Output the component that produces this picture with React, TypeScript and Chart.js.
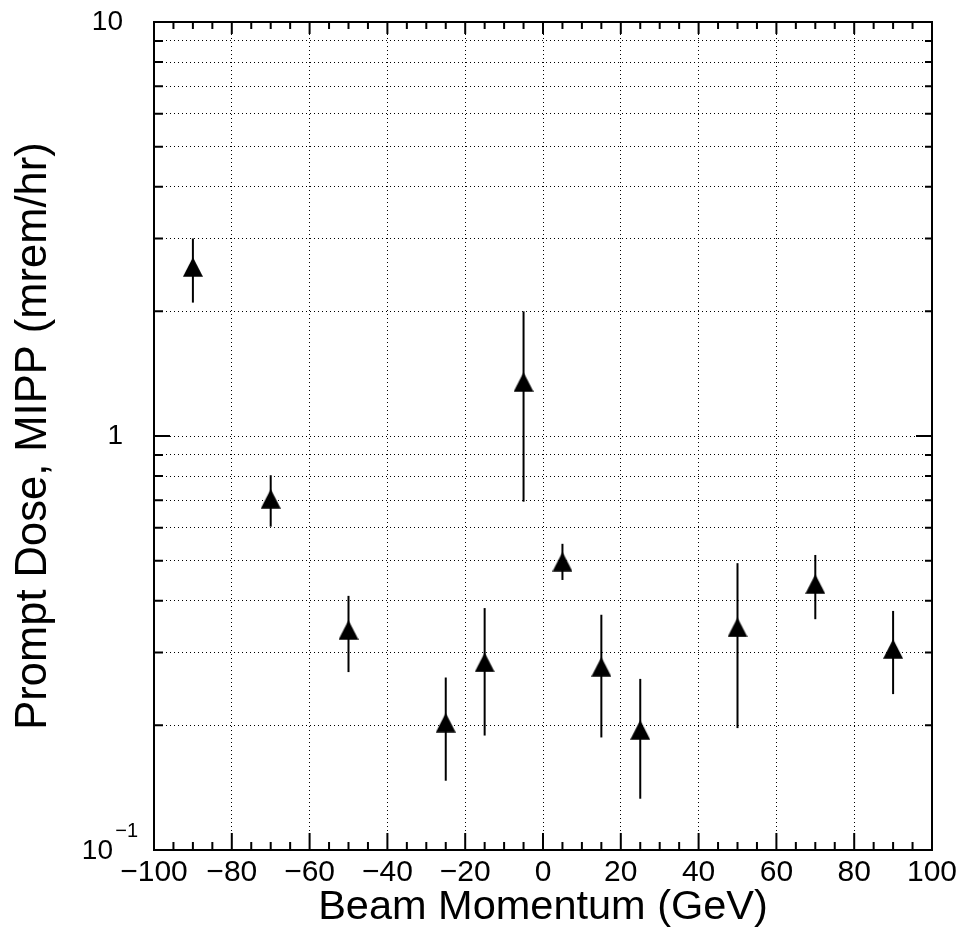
import React, { useEffect, useRef } from 'react';
import { Chart, registerables } from 'chart.js';

Chart.register(...registerables);

// ---- data ----
const momentum = [-90, -70, -50, -25, -15, -5, 5, 15, 25, 50, 70, 90];
const dose = [2.56, 0.705, 0.34, 0.203, 0.284, 1.35, 0.497, 0.277, 0.195, 0.345, 0.439, 0.306];
const doseHigh = [3.0, 0.804, 0.411, 0.261, 0.384, 2.0, 0.549, 0.37, 0.259, 0.493, 0.516, 0.378];
const doseLow = [2.1, 0.604, 0.269, 0.147, 0.189, 0.694, 0.449, 0.187, 0.133, 0.197, 0.361, 0.238];

// ---- axis ticks ----
const xMajorTicks = [-100, -80, -60, -40, -20, 0, 20, 40, 60, 80, 100];
const xMinorStep = 5;
const yTickValues = [0.1, 0.2, 0.3, 0.4, 0.5, 0.6, 0.7, 0.8, 0.9, 1, 2, 3, 4, 5, 6, 7, 8, 9, 10];
const yMajorTicks = [0.1, 1, 10];
const yTickLabels: Record<string, string> = { '10': '10', '1': '1' };
const yBottomLabelBase = '10';
const yBottomLabelExp = '\u22121';

const xTitle = 'Beam Momentum (GeV)';
const yTitle = 'Prompt Dose, MIPP (mrem/hr)';

const FONT = "'Liberation Sans', Arial, Helvetica, sans-serif";

function makeTriangle(): HTMLCanvasElement {
  const c = document.createElement('canvas');
  c.width = 20;
  c.height = 20;
  const g = c.getContext('2d')!;
  g.fillStyle = '#000';
  g.beginPath();
  g.moveTo(10, 0.3);
  g.lineTo(20, 19.7);
  g.lineTo(0, 19.7);
  g.closePath();
  g.fill();
  return c;
}

const isMajorX = (v: number) => xMajorTicks.indexOf(v) >= 0;
const isMajorY = (v: number) => yMajorTicks.some((m) => Math.abs(m - v) < 1e-9);

const errorBarPlugin = {
  id: 'errorBars',
  beforeDatasetsDraw(chart: any) {
    const { ctx, scales } = chart;
    const x = scales.x;
    const y = scales.y;
    ctx.save();
    ctx.strokeStyle = '#000';
    ctx.lineWidth = 2;
    momentum.forEach((m, i) => {
      const px = x.getPixelForValue(m);
      ctx.beginPath();
      ctx.moveTo(px, y.getPixelForValue(doseHigh[i]));
      ctx.lineTo(px, y.getPixelForValue(doseLow[i]));
      ctx.stroke();
    });
    ctx.restore();
  },
};

const framePlugin = {
  id: 'frameTicks',
  afterDraw(chart: any) {
    const { ctx, chartArea, scales } = chart;
    const { left, right, top, bottom } = chartArea;
    const x = scales.x;
    const y = scales.y;
    ctx.save();
    ctx.strokeStyle = '#000';
    ctx.lineWidth = 2;
    // tick marks pointing inward
    x.ticks.forEach((t: any) => {
      const px = x.getPixelForValue(t.value);
      const major = isMajorX(t.value);
      ctx.beginPath();
      ctx.moveTo(px, bottom);
      ctx.lineTo(px, bottom - (major ? 17 : 8));
      ctx.moveTo(px, top);
      ctx.lineTo(px, top + (major ? 12 : 7));
      ctx.stroke();
    });
    y.ticks.forEach((t: any) => {
      const py = y.getPixelForValue(t.value);
      const major = isMajorY(t.value);
      ctx.beginPath();
      ctx.moveTo(left, py);
      ctx.lineTo(left + (major ? 16 : 9), py);
      ctx.moveTo(right, py);
      ctx.lineTo(right - (major ? 16 : 7), py);
      ctx.stroke();
    });
    ctx.strokeRect(left, top, right - left, bottom - top);

    // 10^-1 label at the bottom of the y axis
    const p = y.getPixelForValue(0.1);
    ctx.fillStyle = '#000';
    ctx.textAlign = 'right';
    ctx.textBaseline = 'middle';
    ctx.font = `28px ${FONT}`;
    ctx.fillText(yBottomLabelBase, left - 41, p + 1);
    ctx.font = `20px ${FONT}`;
    ctx.fillText(yBottomLabelExp, left - 16, p - 19);
    ctx.restore();
  },
};

export default function App() {
  const ref = useRef<HTMLCanvasElement>(null);

  useEffect(() => {
    const canvas = ref.current;
    if (!canvas) return;
    const tri = makeTriangle();
    const chart = new Chart(canvas, {
      type: 'scatter',
      data: {
        datasets: [
          {
            data: momentum.map((m, i) => ({ x: m, y: dose[i] })),
            pointStyle: tri as any,
            backgroundColor: '#000',
            borderColor: '#000',
            pointRadius: 10,
          },
        ],
      },
      options: {
        animation: false,
        responsive: false,
        devicePixelRatio: 1,
        layout: { padding: { top: 22, right: 31, bottom: 0, left: 0 } },
        plugins: {
          legend: { display: false },
          tooltip: { enabled: false },
        },
        scales: {
          x: {
            type: 'linear',
            min: -100,
            max: 100,
            afterBuildTicks: (scale: any) => {
              const ticks = [];
              for (let v = -100; v <= 100; v += xMinorStep) ticks.push({ value: v });
              scale.ticks = ticks;
            },
            afterFit: (scale: any) => {
              scale.height = 85;
            },
            grid: {
              drawTicks: false,
              color: (c: any) =>
                c.tick && isMajorX(c.tick.value) && Math.abs(c.tick.value) !== 100 ? '#000' : 'rgba(0,0,0,0)',
              lineWidth: 1,
            },
            border: { display: false, dash: [1, 3] },
            ticks: {
              autoSkip: false,
              maxRotation: 0,
              minRotation: 0,
              padding: 5,
              color: '#000',
              font: { family: FONT, size: 30 },
              callback: (v: any) => {
                const n = Number(v);
                if (!isMajorX(n)) return '';
                return n < 0 ? '\u2212' + Math.abs(n) : String(n);
              },
            },
            title: {
              display: true,
              text: xTitle,
              color: '#000',
              font: { family: FONT, size: 41.5 },
              padding: { top: 0, bottom: 3 },
            },
          },
          y: {
            type: 'logarithmic',
            min: 0.1,
            max: 10,
            afterBuildTicks: (scale: any) => {
              scale.ticks = yTickValues.map((v) => ({ value: v }));
            },
            afterFit: (scale: any) => {
              scale.width = 154;
            },
            grid: {
              drawTicks: true,
              tickLength: 31,
              tickColor: 'rgba(0,0,0,0)',
              color: '#000',
              lineWidth: 1,
            },
            border: { display: false, dash: [1, 3] },
            ticks: {
              autoSkip: false,
              padding: 0,
              color: '#000',
              font: { family: FONT, size: 28 },
              callback: (v: any) => {
                const key = String(Number(v));
                return yTickLabels[key] !== undefined ? yTickLabels[key] : '';
              },
            },
            title: {
              display: true,
              text: yTitle,
              color: '#000',
              font: { family: FONT, size: 43.5 },
              padding: { top: 8, bottom: 0 },
            },
          },
        },
      },
      plugins: [errorBarPlugin, framePlugin],
    });
    return () => chart.destroy();
  }, []);

  return (
    <div style={{ position: 'fixed', left: 0, top: 0, width: 963, height: 935, background: '#fff' }}>
      <canvas ref={ref} width={963} height={935} style={{ width: 963, height: 935, display: 'block' }} />
    </div>
  );
}
